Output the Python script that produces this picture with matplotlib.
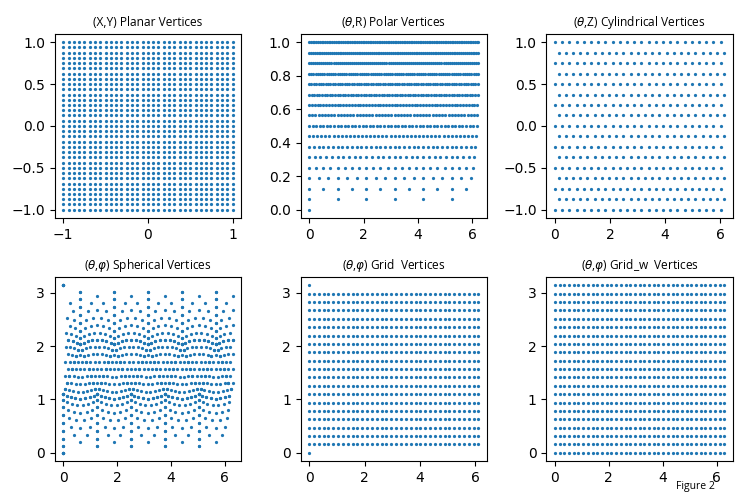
import numpy as np
import matplotlib.pyplot as plt

plt.rcParams['mathtext.fontset'] = 'dejavusans'

# (X,Y) planar grid, same levels on both axes
planar_levels = [-1.0, -0.9375, -0.875, -0.8125, -0.75, -0.6875, -0.625, -0.5625,
                 -0.5, -0.4375, -0.375, -0.3125, -0.25, -0.1875, -0.125, -0.0625,
                 0.0, 0.0625, 0.125, 0.1875, 0.25, 0.3125, 0.375, 0.4375,
                 0.5, 0.5625, 0.625, 0.6875, 0.75, 0.8125, 0.875, 0.9375, 1.0]

# (theta,R) polar rings: radius and number of vertices on the ring
polar_radii = [0.0, 0.0625, 0.125, 0.1875, 0.25, 0.3125, 0.375, 0.4375, 0.5,
               0.5625, 0.625, 0.6875, 0.75, 0.8125, 0.875, 0.9375, 1.0]
polar_counts = [1, 6, 12, 18, 24, 30, 36, 42, 48, 54, 60, 66, 72, 78, 84, 90, 96]

# (theta,Z) cylinder rows, odd rows shifted by half a step
cyl_z = [-1.0, -0.875, -0.75, -0.625, -0.5, -0.375, -0.25, -0.125, 0.0,
         0.125, 0.25, 0.375, 0.5, 0.625, 0.75, 0.875, 1.0]
cyl_count = 24

# icosphere subdivision frequency
ico_freq = 8

# (theta,phi) grid without poles in the rows, poles added once
grid_phi = [0.1571, 0.3142, 0.4712, 0.6283, 0.7854, 0.9425, 1.0996, 1.2566, 1.4137,
            1.5708, 1.7279, 1.885, 2.042, 2.1991, 2.3562, 2.5133, 2.6704, 2.8274, 2.9845]
grid_poles = [0.0, 3.1416]
grid_count = 36

# (theta,phi) wrapped grid, theta includes 2pi
gridw_phi = [0.0] + grid_phi + [3.1416]
gridw_count = 37


def icosphere(freq):
    h = 1 / np.sqrt(5)
    r = 2 / np.sqrt(5)
    top = np.array([0.0, 0.0, 1.0])
    bot = np.array([0.0, 0.0, -1.0])
    upper = [np.array([r * np.cos(a), r * np.sin(a), h]) for a in np.radians([0, 72, 144, 216, 288])]
    lower = [np.array([r * np.cos(a), r * np.sin(a), -h]) for a in np.radians([36, 108, 180, 252, 324])]
    faces = []
    for k in range(5):
        u0, u1 = upper[k], upper[(k + 1) % 5]
        l0, l1 = lower[k], lower[(k + 1) % 5]
        faces += [(top, u0, u1), (u0, l0, u1), (u1, l0, l1), (bot, l0, l1)]
    pts = []
    for a, b, c in faces:
        for i in range(freq + 1):
            for j in range(freq + 1 - i):
                p = a + (b - a) * i / freq + (c - a) * j / freq
                pts.append(p / np.linalg.norm(p))
    pts = np.array(pts)
    theta = np.arctan2(pts[:, 1], pts[:, 0]) % (2 * np.pi)
    phi = np.arccos(np.clip(pts[:, 2], -1, 1))
    return theta, phi


fig, axes = plt.subplots(2, 3, figsize=(7.5, 4.98), dpi=100)
plt.subplots_adjust(left=0.073, right=0.977, top=0.932, bottom=0.074, wspace=0.32, hspace=0.32)
tfont = dict(fontsize=8.6, family='Open Sans')
s = 1.7

# planar
X, Y = np.meshgrid(planar_levels, planar_levels)
ax = axes[0, 0]
ax.scatter(X.ravel(), Y.ravel(), s=s)
ax.set_title('(X,Y) Planar Vertices', **tfont)

# polar
th, rr = [], []
for r, n in zip(polar_radii, polar_counts):
    th += list(2 * np.pi * np.arange(n) / n)
    rr += [r] * n
ax = axes[0, 1]
ax.scatter(th, rr, s=s)
ax.set_title(r'($\theta$,R) Polar Vertices', **tfont)

# cylindrical
th, zz = [], []
for i, z in enumerate(cyl_z):
    off = 0.5 if i % 2 else 0.0
    th += list(2 * np.pi * (np.arange(cyl_count) + off) / cyl_count)
    zz += [z] * cyl_count
ax = axes[0, 2]
ax.scatter(th, zz, s=s)
ax.set_title(r'($\theta$,Z) Cylindrical Vertices', **tfont)

# spherical
th, ph = icosphere(ico_freq)
ax = axes[1, 0]
ax.scatter(th, ph, s=s)
ax.set_title(r'($\theta$,$\varphi$) Spherical Vertices', **tfont)

# grid
T, P = np.meshgrid(2 * np.pi * np.arange(grid_count) / grid_count, grid_phi)
ax = axes[1, 1]
ax.scatter(list(T.ravel()) + [0.0, 0.0], list(P.ravel()) + grid_poles, s=s)
ax.set_title(r'($\theta$,$\varphi$) Grid  Vertices', **tfont)

# wrapped grid
T, P = np.meshgrid(np.linspace(0, 2 * np.pi, gridw_count), gridw_phi)
ax = axes[1, 2]
ax.scatter(T.ravel(), P.ravel(), s=s)
ax.set_title(r'($\theta$,$\varphi$) Grid_w  Vertices', **tfont)

fig.text(0.927, 0.018, 'Figure 2', fontsize=7.5, family='Open Sans', ha='center')

fig.savefig('out.png', dpi=100)
